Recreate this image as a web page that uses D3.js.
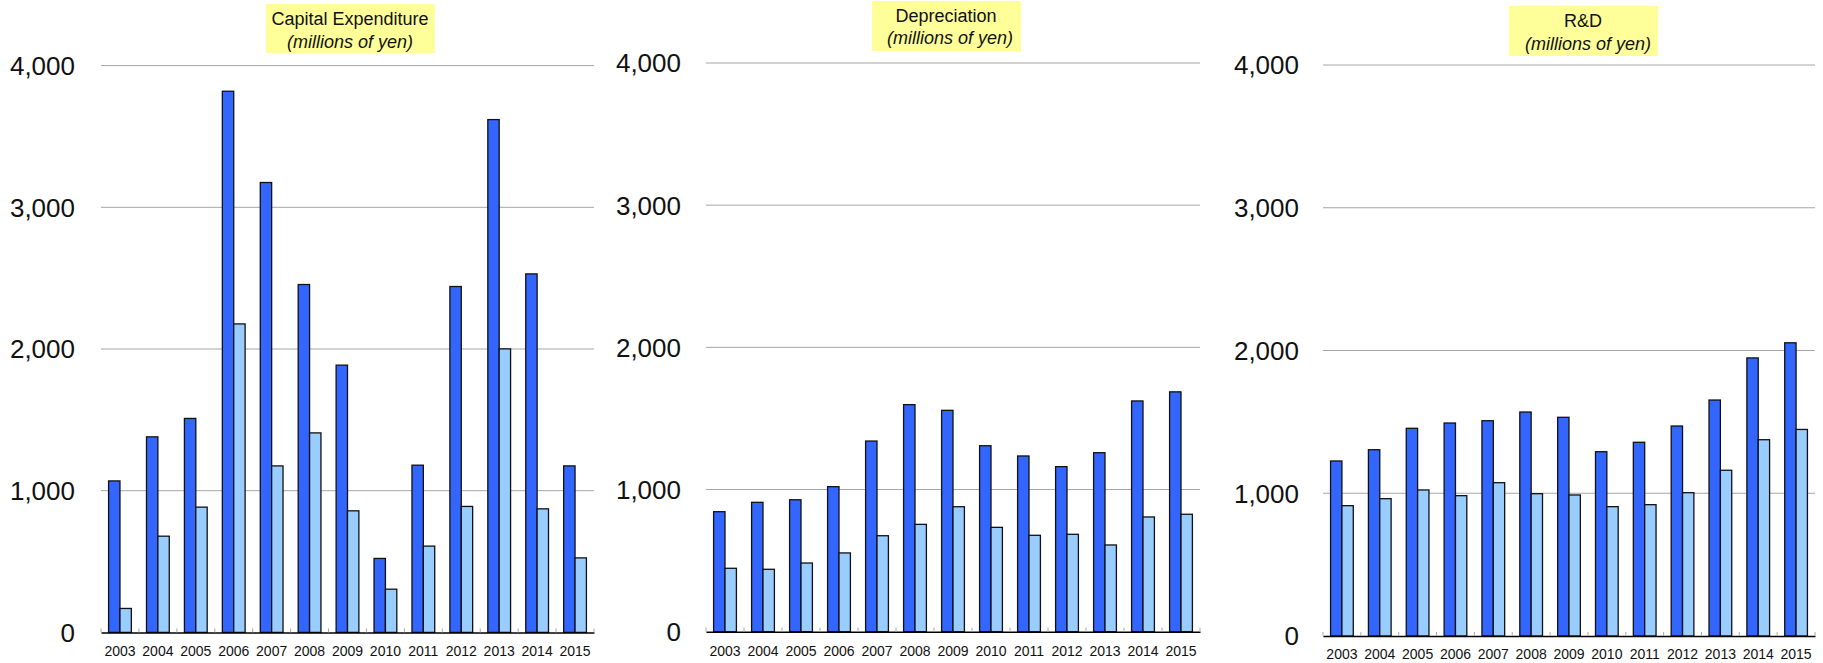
<!DOCTYPE html>
<html>
<head>
<meta charset="utf-8">
<script src="https://cdn.jsdelivr.net/npm/d3@7"></script>
<style>
  html, body { margin: 0; padding: 0; background: #fff; }
  svg { display: block; font-family: "Liberation Sans", Arial, sans-serif; }
</style>
</head>
<body>
<svg id="chart" width="1823" height="663"></svg>
<script>
const years = ["2003", "2004", "2005", "2006", "2007", "2008", "2009", "2010", "2011", "2012", "2013", "2014", "2015"]
const yTicks = [0, 1000, 2000, 3000, 4000]

const capexA = [1069, 1380, 1510, 3819, 3175, 2455, 1886, 522, 1180, 2441, 3619, 2530, 1175]
const capexB = [169, 679, 884, 2177, 1175, 1408, 858, 305, 609, 889, 2001, 872, 526]

const deprA = [844, 910, 928, 1020, 1341, 1597, 1557, 1308, 1236, 1161, 1259, 1623, 1687]
const deprB = [446, 439, 483, 554, 675, 755, 879, 734, 678, 685, 610, 807, 826]

const rdA = [1226, 1305, 1455, 1492, 1508, 1569, 1532, 1291, 1357, 1471, 1653, 1948, 2054]
const rdB = [913, 962, 1023, 983, 1074, 997, 988, 906, 920, 1004, 1161, 1375, 1447]

const titles = ["Capital Expenditure", "Depreciation", "R&D"]
const subtitle = "(millions of yen)"

const colDark = "#3366ff"
const colLight = "#99ccff"

const panels = [
  {a: capexA, b: capexB, title: titles[0], x0: 101, x1: 594, y0: 632.4, y4k: 65.6, labelX: 75,
    box: {x: 266, y: 4, w: 169, h: 49}, t1: {x: 350, y: 25}, t2: {x: 350, y: 48}, yearY: 656},
  {a: deprA, b: deprB, title: titles[1], x0: 706, x1: 1200, y0: 631.7, y4k: 63, labelX: 681,
    box: {x: 872, y: 1, w: 149, h: 50}, t1: {x: 946, y: 22}, t2: {x: 950, y: 44}, yearY: 656},
  {a: rdA, b: rdB, title: titles[2], x0: 1323, x1: 1815, y0: 636, y4k: 65, labelX: 1299,
    box: {x: 1509, y: 6, w: 149, h: 50}, t1: {x: 1583, y: 27}, t2: {x: 1588, y: 50}, yearY: 659},
]

const svg = d3.select("#chart")
const fmt = d3.format(",")

for (const p of panels) {
  const g = svg.append("g")

  const x = d3.scaleBand().domain(years).range([p.x0, p.x1]).paddingInner(0.4).paddingOuter(0.2)
  const xs = d3.scaleBand().domain(["a", "b"]).range([0, x.bandwidth()])
  const y = d3.scaleLinear().domain([0, 4000]).range([p.y0, p.y4k])

  // gridlines
  g.append("g")
    .selectAll("line")
    .data(yTicks.filter((d) => d > 0))
    .join("line")
    .attr("x1", p.x0)
    .attr("x2", p.x1)
    .attr("y1", (d) => y(d))
    .attr("y2", (d) => y(d))
    .attr("stroke", "#a6a6a6")
    .attr("stroke-width", 1)

  // y labels
  g.append("g")
    .selectAll("text")
    .data(yTicks)
    .join("text")
    .attr("x", p.labelX)
    .attr("y", (d) => y(d))
    .attr("dy", "0.36em")
    .attr("text-anchor", "end")
    .attr("font-size", 26)
    .attr("fill", "#111")
    .text((d) => fmt(d))

  // bars
  const rows = years.map((yr, i) => ({yr, a: p.a[i], b: p.b[i]}))
  const bars = g.append("g")
  for (const k of ["a", "b"]) {
    bars.append("g")
      .selectAll("rect")
      .data(rows)
      .join("rect")
      .attr("x", (d) => x(d.yr) + xs(k))
      .attr("y", (d) => y(d[k]))
      .attr("width", xs.bandwidth())
      .attr("height", (d) => y(0) - y(d[k]))
      .attr("fill", k === "a" ? colDark : colLight)
      .attr("stroke", "#111")
      .attr("stroke-width", 1.3)
  }

  // category axis
  const ax = g.append("g")
    .attr("transform", `translate(0,${p.y0})`)
    .call(d3.axisBottom(x).tickSize(0).tickPadding(0).tickSizeOuter(0))
  ax.select(".domain").attr("stroke", "#000").attr("stroke-width", 1.5)
  ax.selectAll("text")
    .attr("y", p.yearY - p.y0)
    .attr("dy", 0)
    .attr("font-size", 14)
    .attr("font-family", "\"Liberation Sans\", Arial, sans-serif")
    .attr("fill", "#111")

  // small boundary ticks between categories
  const bounds = d3.range(years.length + 1).map((i) => p.x0 + i * x.step())
  g.append("g")
    .selectAll("line")
    .data(bounds)
    .join("line")
    .attr("x1", (d) => d)
    .attr("x2", (d) => d)
    .attr("y1", p.y0 - 4)
    .attr("y2", p.y0)
    .attr("stroke", "#aaa")
    .attr("stroke-width", 1)

  // title box
  g.append("rect")
    .attr("x", p.box.x)
    .attr("y", p.box.y)
    .attr("width", p.box.w)
    .attr("height", p.box.h)
    .attr("fill", "#ffff99")
  g.append("text")
    .attr("x", p.t1.x)
    .attr("y", p.t1.y)
    .attr("text-anchor", "middle")
    .attr("font-size", 18)
    .attr("fill", "#111")
    .text(p.title)
  g.append("text")
    .attr("x", p.t2.x)
    .attr("y", p.t2.y)
    .attr("text-anchor", "middle")
    .attr("font-size", 18)
    .attr("font-style", "italic")
    .attr("fill", "#111")
    .text(subtitle)
}
</script>
</body>
</html>
